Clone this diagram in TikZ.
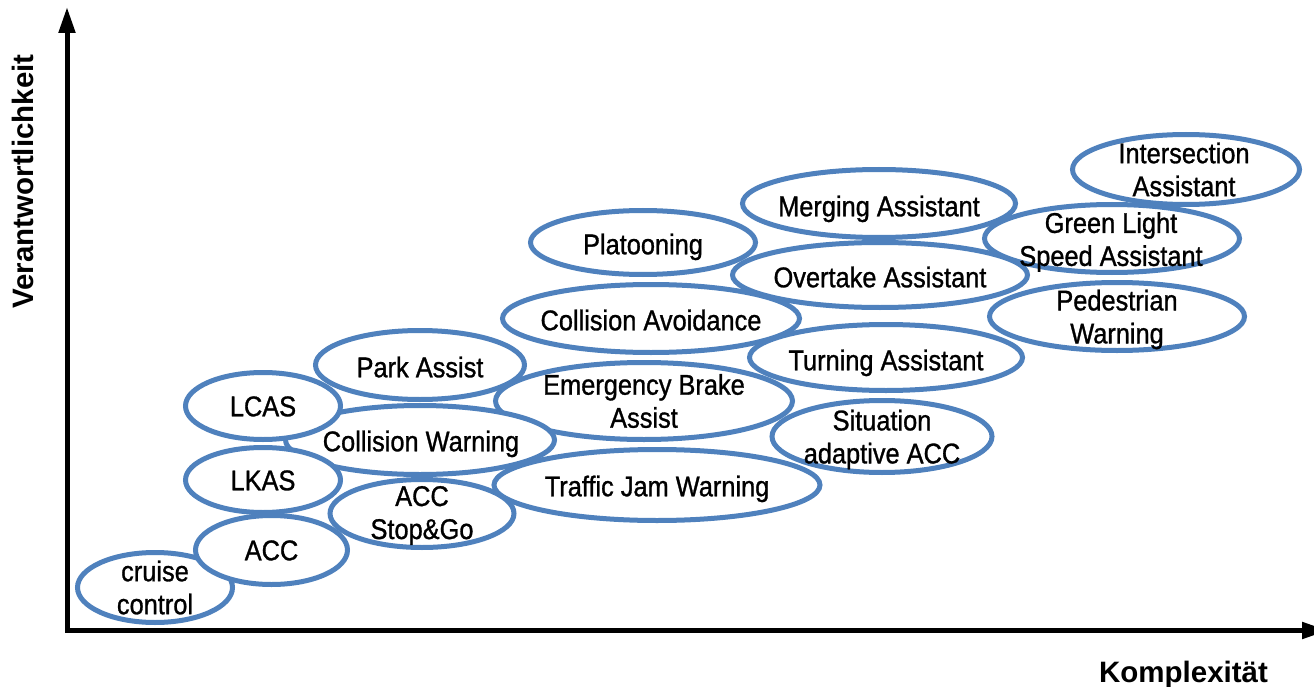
\documentclass[tikz,border=0pt]{standalone}
\usepackage{fontspec}
\setmainfont{Liberation Sans}
\newfontfamily\narrowsans[FakeStretch=0.89,FakeBold=1]{Liberation Sans}
\usetikzlibrary{shapes.geometric,arrows.meta}
\definecolor{bubblue}{HTML}{4F81BD}
\begin{document}
\begin{tikzpicture}[x=1pt,y=-1pt,
  bub/.style={ellipse, draw=bubblue, line width=5pt, fill=white, inner sep=0pt, outer sep=0pt},
  txt/.style={align=center, font=\narrowsans\fontsize{28.5}{33}\selectfont, inner sep=0pt},
  txtone/.style={txt, text height=20.5pt, text depth=0pt},
  axlbl/.style={font=\bfseries\fontsize{29.5}{34}\selectfont, inner sep=0pt},
  axisline/.style={line width=5pt, line join=miter,
    {Triangle[length=26pt,width=16pt]}-{Triangle[length=26pt,width=16pt]}}]
\useasboundingbox (0,0) rectangle (1314,687);

% axes
\coordinate (ytop) at (67,7);
\coordinate (origin) at (67,630.5);
\coordinate (xend) at (1328,630.5);
\draw[axisline] (ytop) -- (origin) -- (xend);
\node[axlbl, rotate=90, anchor=base] (ylabel) at (33,181.5) {Verantwortlichkeit};
\node[axlbl, anchor=base] (xlabel) at (1183.5,682) {Komplexität};

% bubbles (back to front)
\node[bub, minimum width=295, minimum height=65] (over) at (880,275) {};
\node[bub, minimum width=273, minimum height=68] (merg) at (879,203.5) {};
\node[bub, minimum width=255, minimum height=68] (green) at (1112,238.5) {};
\node[bub, minimum width=227, minimum height=70] (inter) at (1186,169.5) {};
\node[bub, minimum width=255, minimum height=68] (ped) at (1117,316.5) {};
\node[bub, minimum width=273, minimum height=66] (turn) at (886,357.5) {};
\node[bub, minimum width=220, minimum height=72] (sit) at (882,436.5) {};
\node[bub, minimum width=225, minimum height=64] (plat) at (643,242.5) {};
\node[bub, minimum width=297, minimum height=68] (ca) at (651,318.5) {};
\node[bub, minimum width=297, minimum height=77] (eb) at (644,401) {};
\node[bub, minimum width=326, minimum height=71] (tj) at (657,485) {};
\node[bub, minimum width=269, minimum height=69] (cw) at (420,440) {};
\node[bub, minimum width=209, minimum height=69] (park) at (420,365) {};
\node[bub, minimum width=184, minimum height=68] (stopgo) at (422,513.5) {};
\node[bub, minimum width=155, minimum height=67] (lcas) at (263,406) {};
\node[bub, minimum width=155, minimum height=65] (lkas) at (263,480) {};
\node[bub, minimum width=155, minimum height=70] (cc) at (155,587.5) {};
\node[bub, minimum width=152, minimum height=69] (acc) at (271.5,550) {};

% texts
\node[txtone] (over-t) at (880,277) {Overtake Assistant};
\node[txtone] (merg-t) at (879,206) {Merging Assistant};
\node[txt] (green-t) at (1111,242) {Green Light\\Speed Assistant};
\node[txt] (inter-t) at (1184,169.5) {Intersection\\Assistant};
\node[txt] (ped-t) at (1117,319.5) {Pedestrian\\Warning};
\node[txtone] (turn-t) at (886,360) {Turning Assistant};
\node[txt] (sit-t) at (882,439.5) {Situation\\adaptive ACC};
\node[txtone] (plat-t) at (643,244) {Platooning};
\node[txtone] (ca-t) at (651,320) {Collision Avoidance};
\node[txt] (eb-t) at (eb) {Emergency Brake\\Assist};
\node[txtone] (tj-t) at (657,486) {Traffic Jam Warning};
\node[txtone] (cw-t) at (421,441) {Collision Warning};
\node[txtone] (park-t) at (420,367) {Park Assist};
\node[txt] (stopgo-t) at (422,515.5) {ACC\\Stop\&Go};
\node[txtone] (lcas-t) at (lcas) {LCAS};
\node[txtone] (lkas-t) at (lkas) {LKAS};
\node[txt] (cc-t) at (cc) {cruise\\control};
\node[txtone] (acc-t) at (acc) {ACC};
\end{tikzpicture}
\end{document}
